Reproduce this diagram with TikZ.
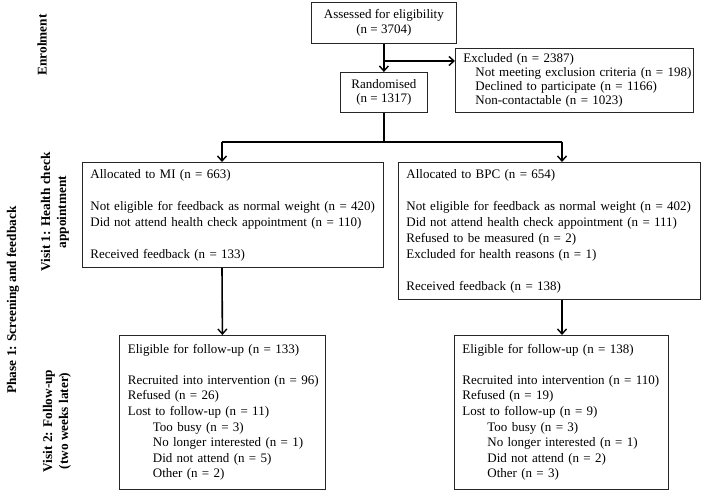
\documentclass[tikz,border=0pt]{standalone}
\usepackage{fontspec}
\setmainfont{Liberation Serif}
\usetikzlibrary{arrows.meta}
\newcommand{\lines}[1]{\begin{tabular}{@{}l@{}}#1\end{tabular}}
\begin{document}
\begin{tikzpicture}[x=1pt,y=-1pt,
  box/.style={draw=black!85, line width=0.8pt, anchor=north west, inner ysep=0pt, inner xsep=8pt,
    font=\fontsize{13}{16}\selectfont},
  lbox/.style={box, align=left},
  cbox/.style={box, align=center},
  conn/.style={line width=1.6pt, black},
  arr/.style={conn, -{Straight Barb[length=5pt,width=9pt,line width=1.4pt]}},
  side/.style={rotate=90, font=\fontsize{13.3}{16}\selectfont\bfseries, align=center, inner sep=0pt}]
\useasboundingbox (0,0) rectangle (702,490);

% boxes
\node[cbox, minimum width=145pt, minimum height=41pt, font=\fontsize{13}{15}\selectfont] (assess) at (311,2)
  {Assessed for eligibility\\(n = 3704)};
\node[lbox, minimum width=238pt, minimum height=64pt, text width=222pt,
  font=\fontsize{13}{14}\selectfont] (excl) at (455,48)
  {\lines{Excluded (n = 2387)\\
   \hspace*{12pt}Not meeting exclusion criteria (n = 198)\\
   \hspace*{12pt}Declined to participate (n = 1166)\\
   \hspace*{12pt}Non-contactable (n = 1023)}};
\node[cbox, minimum width=87pt, minimum height=40pt, inner xsep=0pt,
  font=\fontsize{13}{14}\selectfont] (rand) at (340,72)
  {Randomised\\(n = 1317)};
\node[lbox, minimum width=301pt, minimum height=105pt, text width=285pt] (mi) at (82,162)
  {\lines{Allocated to MI (n = 663)\\[16pt]
   Not eligible for feedback as normal weight (n = 420)\\
   Did not attend health check appointment (n = 110)\\[16pt]
   Received feedback (n = 133)}};
\node[lbox, minimum width=302pt, minimum height=137pt, text width=286pt] (bpc) at (398,162)
  {\lines{Allocated to BPC (n = 654)\\[16pt]
   Not eligible for feedback as normal weight (n = 402)\\
   Did not attend health check appointment (n = 111)\\
   Refused to be measured (n = 2)\\
   Excluded for health reasons (n = 1)\\[16pt]
   Received feedback (n = 138)}};
\node[lbox, minimum width=206pt, minimum height=154pt, text width=189pt, inner xsep=8.5pt,
  font=\fontsize{13}{15.6}\selectfont] (mfu) at (119,335)
  {\lines{Eligible for follow-up (n = 133)\\[15.6pt]
   Recruited into intervention (n = 96)\\
   Refused (n = 26)\\
   Lost to follow-up (n = 11)\\
   \hspace*{25pt}Too busy (n = 3)\\
   \hspace*{25pt}No longer interested (n = 1)\\
   \hspace*{25pt}Did not attend (n = 5)\\
   \hspace*{25pt}Other (n = 2)}};
\node[lbox, minimum width=214pt, minimum height=154pt, text width=198pt,
  font=\fontsize{13}{15.6}\selectfont] (bfu) at (454,335)
  {\lines{Eligible for follow-up (n = 138)\\[15.6pt]
   Recruited into intervention (n = 110)\\
   Refused (n = 19)\\
   Lost to follow-up (n = 9)\\
   \hspace*{25pt}Too busy (n = 3)\\
   \hspace*{25pt}No longer interested (n = 1)\\
   \hspace*{25pt}Did not attend (n = 2)\\
   \hspace*{25pt}Other (n = 3)}};

% side labels
\node[side] (enrol) at (42,45) {Enrolment};
\node[side] (v1) at (55,212) {Visit 1: Health check\\appointment};
\node[side] (ph1) at (13,300) {Phase 1: Screening and feedback};
\node[side] (v2) at (57,421) {Visit 2: Follow-up\\(two weeks later)};

% connectors
\coordinate (br) at (383.5,61);
\coordinate (ma) at (222,142);
\coordinate (ba) at (562,142);
\draw[arr] (assess.south) -- (rand.north);
\draw[arr] (br) -- (br -| excl.west);
\draw[conn] (rand.south) -- (rand.south |- ma);
\draw[conn] (ma) -- (ba);
\draw[arr] (ma) -- (ma |- mi.north);
\draw[arr] (ba) -- (ba |- bpc.north);
\draw[arr] (ma |- mi.south) -- (mfu.north);
\draw[arr] (ba |- bpc.south) -- (ba |- bfu.north);
\end{tikzpicture}
\end{document}
